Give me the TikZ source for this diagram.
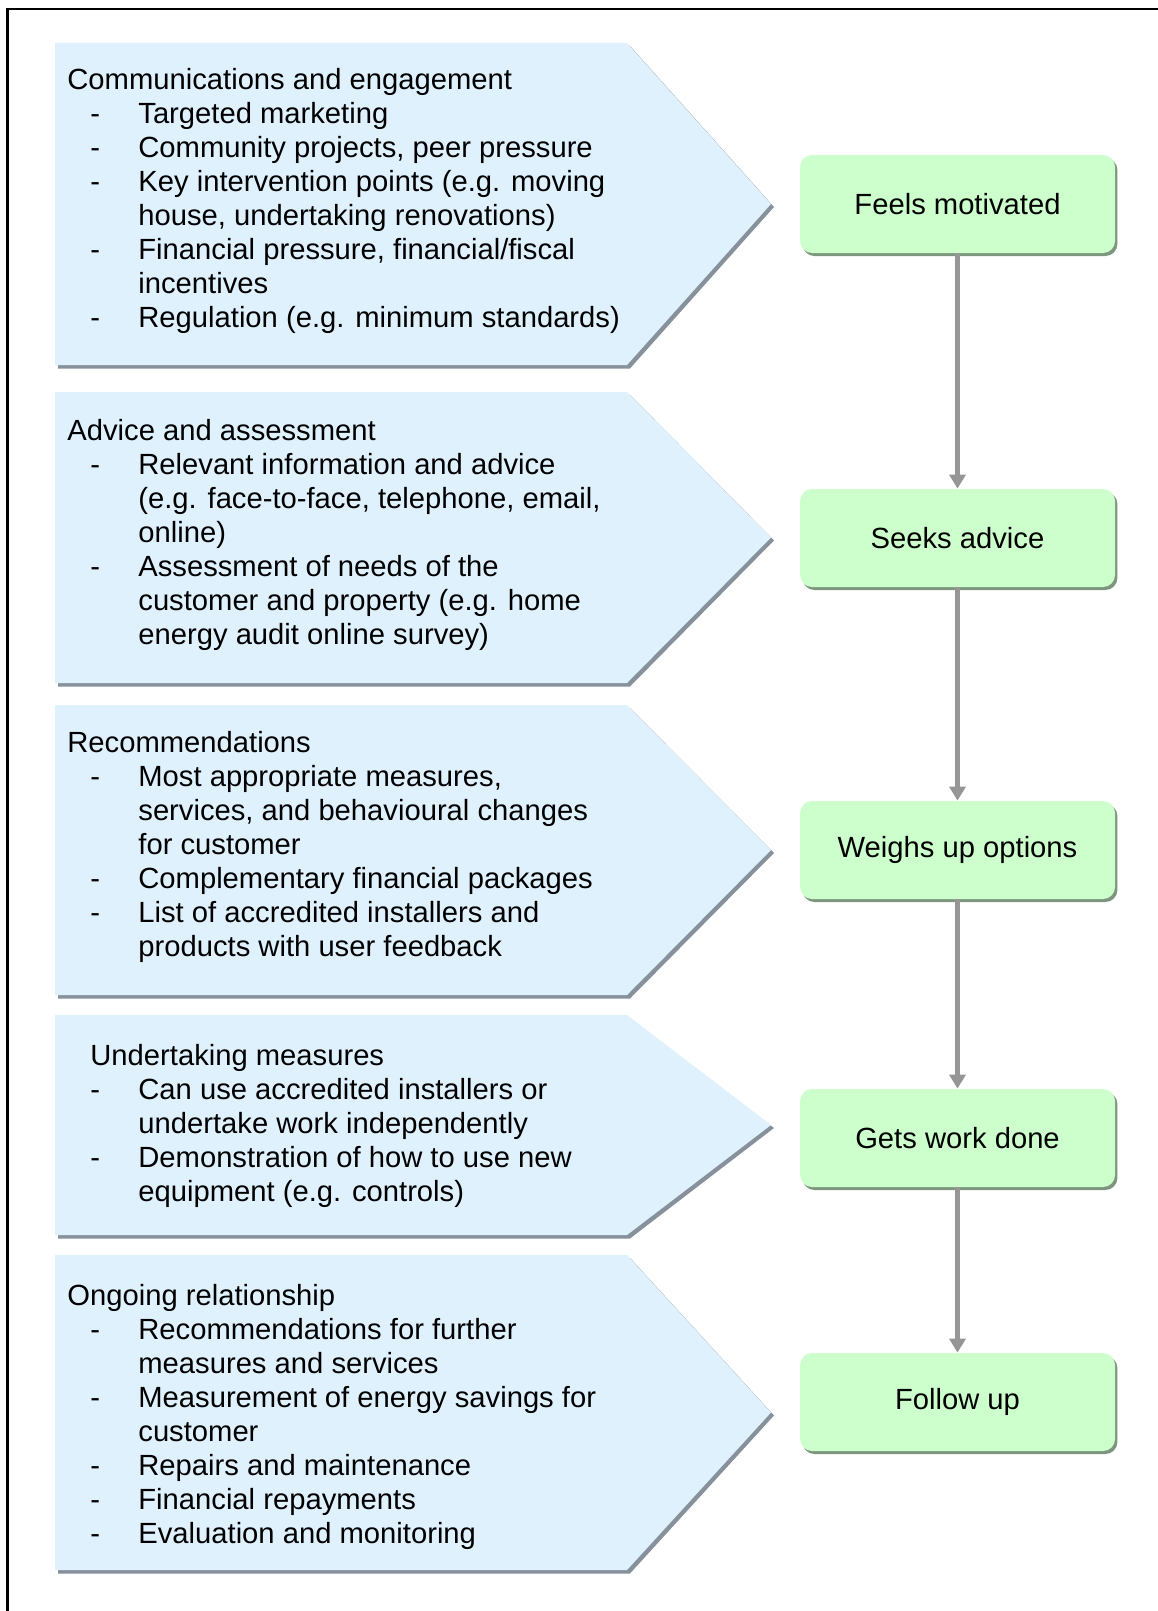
\documentclass[tikz,border=0pt]{standalone}
\usepackage{fontspec}
\setmainfont{Liberation Sans}
\usetikzlibrary{arrows.meta,shadows}
\definecolor{panelBlue}{RGB}{224,241,254}
\definecolor{panelShade}{RGB}{135,145,155}
\definecolor{stageGreen}{RGB}{204,255,204}
\definecolor{stageShade}{RGB}{125,150,125}
\definecolor{flowGray}{RGB}{150,150,150}
\newcommand\itemdash{\makebox[35.5pt][l]{\hspace{11.5pt}-}}
\newcommand\itemcont{\hspace*{35.5pt}}

\begin{document}
\begin{tikzpicture}[x=0.5pt,y=-0.5pt,
    txt/.style={anchor=base west, inner sep=0pt, font=\fontsize{14.6}{17}\selectfont},
    stage/.style={rectangle, rounded corners=6pt, fill=stageGreen,
                  minimum width=157.5pt, minimum height=49pt, inner sep=0pt,
                  font=\fontsize{14.6}{17}\selectfont,
                  drop shadow={shadow xshift=1.2pt, shadow yshift=-1.5pt,
                               fill=stageShade, opacity=1}},
    flow/.style={draw=flowGray, line width=2.1pt,
                 -{Triangle[length=7pt,width=8pt]}}
  ]
  \useasboundingbox (0,0) rectangle (1157,1611);
  % frame
  \draw[line width=1.1pt] (7.5,1620) -- (7.5,9) -- (1165,9);

  % chevrons
  \foreach \t/\b in {43/365, 392/683, 705/995, 1015/1235, 1255/1570}{
    \fill[panelShade] (58,\t+3) -- (630,\t+3) -- (774,{(\t+\b)/2+3})
      -- (630,\b+3.5) -- (58,\b+3.5) -- cycle;
    \fill[panelBlue] (55,\t) -- (627,\t) -- (771,{(\t+\b)/2})
      -- (627,\b) -- (55,\b) -- cycle;
  }

  \node[txt] (comm) at (67,90) {\begin{tabular}[t]{@{}l@{}}
    Communications and engagement\\
    \itemdash Targeted marketing\\
    \itemdash Community projects, peer pressure\\
    \itemdash Key intervention points (e.g. moving\\
    \itemcont house, undertaking renovations)\\
    \itemdash Financial pressure, financial/fiscal\\
    \itemcont incentives\\
    \itemdash Regulation (e.g. minimum standards)
  \end{tabular}};
  \node[txt] (advice) at (67,440.5) {\begin{tabular}[t]{@{}l@{}}
    Advice and assessment\\
    \itemdash Relevant information and advice\\
    \itemcont (e.g. face-to-face, telephone, email,\\
    \itemcont online)\\
    \itemdash Assessment of needs of the\\
    \itemcont customer and property (e.g. home\\
    \itemcont energy audit online survey)
  \end{tabular}};
  \node[txt] (recs) at (67,752) {\begin{tabular}[t]{@{}l@{}}
    Recommendations\\
    \itemdash Most appropriate measures,\\
    \itemcont services, and behavioural changes\\
    \itemcont for customer\\
    \itemdash Complementary financial packages\\
    \itemdash List of accredited installers and\\
    \itemcont products with user feedback
  \end{tabular}};
  \node[txt] (measures) at (67,1065) {\begin{tabular}[t]{@{}l@{}}
    \hspace*{11.5pt}Undertaking measures\\
    \itemdash Can use accredited installers or\\
    \itemcont undertake work independently\\
    \itemdash Demonstration of how to use new\\
    \itemcont equipment (e.g. controls)
  \end{tabular}};
  \node[txt] (ongoing) at (67,1305.5) {\begin{tabular}[t]{@{}l@{}}
    Ongoing relationship\\
    \itemdash Recommendations for further\\
    \itemcont measures and services\\
    \itemdash Measurement of energy savings for\\
    \itemcont customer\\
    \itemdash Repairs and maintenance\\
    \itemdash Financial repayments\\
    \itemdash Evaluation and monitoring
  \end{tabular}};

  % stages
  \node[stage] (motivated) at (957.5,204)  {Feels motivated};
  \node[stage] (seeks)     at (957.5,538)  {Seeks advice};
  \node[stage] (weighs)    at (957.5,850)  {Weighs up options};
  \node[stage] (work)      at (957.5,1138) {Gets work done};
  \node[stage] (follow)    at (957.5,1402) {Follow up};

  \draw[flow] (motivated) -- (seeks);
  \draw[flow] (seeks) -- (weighs);
  \draw[flow] (weighs) -- (work);
  \draw[flow] (work) -- (follow);
\end{tikzpicture}
\end{document}
